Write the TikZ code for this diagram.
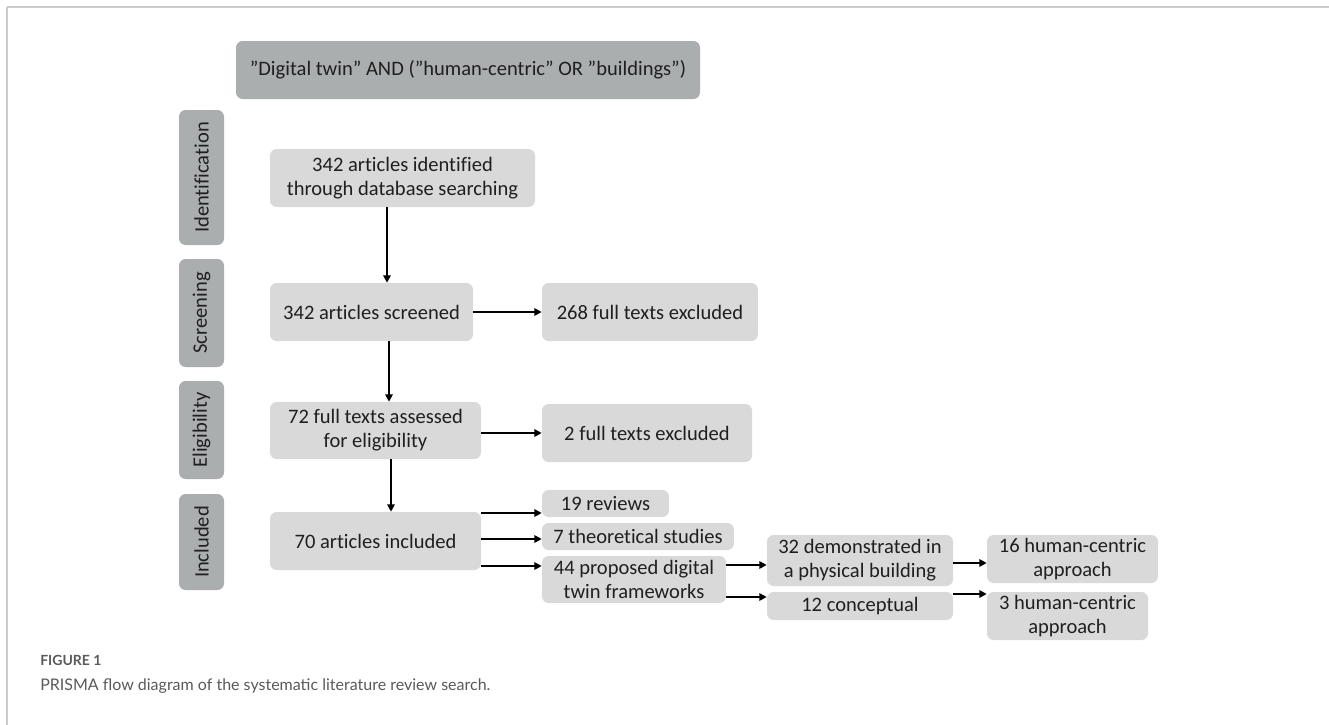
\documentclass[tikz,border=0pt]{standalone}
\usepackage{fontspec}
\setmainfont{Carlito}[Ligatures=NoCommon]
\newfontfamily\capfont{Lato}
\usetikzlibrary{arrows.meta}
\definecolor{querygray}{RGB}{170,174,174}
\definecolor{stepgray}{RGB}{217,217,217}
\definecolor{framegray}{RGB}{204,204,204}
\definecolor{captiongray}{RGB}{90,90,90}

% box given by its corners (x1,y1)-(x2,y2), in pixel units
\newcommand{\pbox}[7][stepbox]{%
  \node[#1, minimum width={(#4-#2)*0.75pt}, minimum height={(#5-#3)*0.75pt}]
    (#6) at ({(#2+#4)/2},{(#3+#5)/2}) {#7};}
% rotated stage label box
\newcommand{\stagebox}[6]{%
  \node[darkbox, rotate=90, minimum width={(#5-#3)*0.75pt}, minimum height={(#4-#2)*0.75pt}]
    (#1) at ({(#2+#4)/2},{(#3+#5)/2}) {#6};}

\begin{document}
\begin{tikzpicture}[x=0.75pt,y=-0.75pt,
  stepbox/.style={fill=stepgray, rounded corners=5pt, inner sep=0pt, align=center,
    font=\fontsize{15.4}{18}\selectfont, text=black!88},
  darkbox/.style={stepbox, fill=querygray},
  arr/.style={line width=1.5pt, -{Triangle[length=5.5pt,width=5.5pt]}}]

\useasboundingbox (0,0) rectangle (1329,725);
\fill[white] (0,0) rectangle (1329,725);
\draw[framegray, line width=1.5pt] (7,7) -- (1329,7);
\draw[framegray, line width=0.8pt] (7,7) -- (7,725);

% search query
\pbox[darkbox]{236}{41}{700}{99}{query}{”Digital twin” AND (”human-centric” OR ”buildings”)}

% stages
\stagebox{sIdent}{179}{110}{224}{245}{Identification}
\stagebox{sScreen}{179}{259}{224}{367}{Screening}
\stagebox{sElig}{179}{381}{224}{479}{Eligibility}
\stagebox{sIncl}{179}{494}{224}{590}{Included}

% main column
\pbox{270}{149}{535}{207}{ident}{342 articles identified\\through database searching}
\pbox{270}{283}{473}{341}{screen}{342 articles screened}
\pbox{270}{402}{481}{459}{assess}{72 full texts assessed\\for eligibility}
\pbox{270}{512}{481}{570}{incl}{70 articles included}

% exclusions and categories
\pbox{542}{283}{758}{341}{excl1}{268 full texts excluded}
\pbox{542}{404}{752}{462}{excl2}{2 full texts excluded}
\pbox{542}{490}{669}{517}{rev}{19 reviews}
\pbox{542}{523}{734}{550}{theo}{7 theoretical studies}
\pbox{542}{556}{726}{603}{frame}{44 proposed digital\\twin frameworks}
\pbox{767}{535}{953}{586}{demo}{32 demonstrated in\\a physical building}
\pbox{767}{592}{953}{620}{concept}{12 conceptual}
\pbox{987}{535}{1158}{583}{hc1}{16 human-centric\\approach}
\pbox{987}{592}{1148}{640}{hc2}{3 human-centric\\approach}

% connectors
\draw[arr] (ident.south -| 387,0) -- (screen.north -| 387,0);
\draw[arr] (screen.south -| 389,0) -- (assess.north -| 389,0);
\draw[arr] (assess.south -| 391,0) -- (incl.north -| 391,0);
\draw[arr] (screen.east) -- (excl1.west);
\draw[arr] (assess.east |- 0,433) -- (excl2.west |- 0,433);
\draw[arr] (incl.east |- 0,513) -- (rev.west |- 0,513);
\draw[arr] (incl.east |- 0,539) -- (theo.west |- 0,539);
\draw[arr] (incl.east |- 0,566) -- (frame.west |- 0,566);
\draw[arr] (frame.east |- 0,565) -- (demo.west |- 0,565);
\draw[arr] (frame.east |- 0,597) -- (concept.west |- 0,597);
\draw[arr] (demo.east |- 0,563) -- (hc1.west |- 0,563);
\draw[arr] (concept.east |- 0,594) -- (hc2.west |- 0,594);

% caption
\node[anchor=base west, inner sep=0pt, font=\capfont\bfseries\fontsize{10.5}{12}\selectfont,
  text=captiongray] (figlabel) at (40,665) {FIGURE 1};
\node[anchor=base west, inner sep=0pt, font=\capfont\fontsize{12}{14}\selectfont,
  text=captiongray] (figcaption) at (40,690) {PRISMA flow diagram of the systematic literature review search.};
\end{tikzpicture}
\end{document}
